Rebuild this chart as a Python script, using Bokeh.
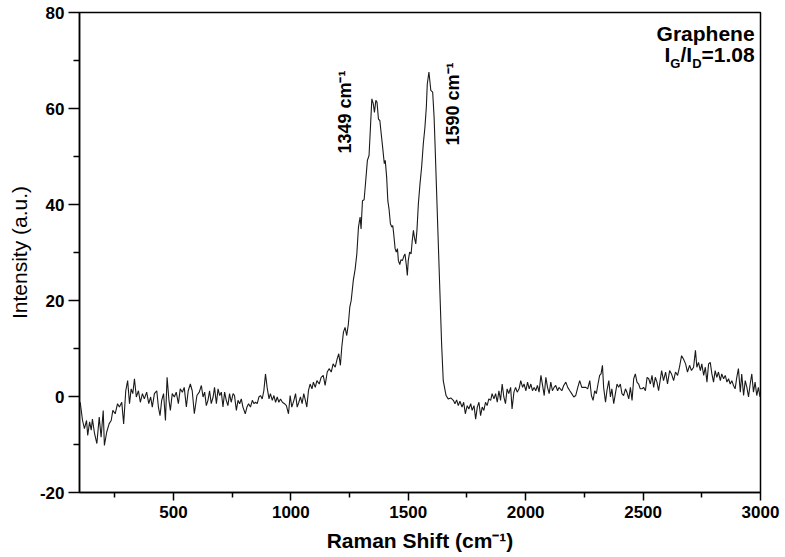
import math
from bokeh.plotting import figure
from bokeh.models import Range1d, FixedTicker, Label
from bokeh.embed import file_html
from bokeh.resources import INLINE

# Raman spectrum of graphene
raman_shift = [
    103, 113, 121, 130, 135, 143, 150, 155, 164, 174, 184, 192, 201, 206, 216, 226, 235, 242, 252, 262,
    270, 280, 288, 297, 305, 313, 320, 327, 334, 342, 351, 359, 368, 376, 386, 395, 403, 410, 419, 429,
    436, 443, 450, 458, 466, 473, 481, 487, 495, 504, 512, 521, 529, 538, 546, 555, 563, 572, 580, 589,
    600, 610, 619, 626, 633, 640, 647, 654, 661, 669, 675, 683, 690, 697, 704, 711, 718, 725, 732, 739,
    746, 754, 760, 768, 775, 782, 789, 796, 806, 813, 820, 828, 836, 843, 850, 857, 864, 871, 878, 885,
    892, 899, 907, 913, 921, 928, 935, 942, 949, 956, 964, 973, 981, 990, 997, 1004, 1013, 1020, 1027, 1034,
    1041, 1048, 1055, 1062,
    1068, 1075, 1082, 1090, 1096, 1104, 1111, 1121, 1129, 1138, 1146, 1155, 1163, 1172, 1180, 1189, 1197, 1204, 1211, 1217,
    1224, 1231, 1238, 1245, 1251, 1257,
    1266, 1274, 1281, 1288, 1295, 1299, 1305, 1312, 1319, 1326, 1333, 1339, 1345, 1351, 1356, 1362, 1367, 1373, 1379, 1384,
    1391, 1398, 1402, 1408, 1413, 1418, 1424, 1430, 1434, 1438, 1444, 1449, 1454, 1458, 1464, 1469, 1475, 1481, 1486, 1492,
    1496, 1500, 1506, 1512, 1517, 1522, 1526, 1532, 1537, 1543, 1550, 1557, 1564, 1571, 1577, 1581, 1588,
    1596, 1604, 1610, 1614, 1621, 1628, 1635, 1642, 1649, 1661, 1670, 1681, 1692, 1699, 1706, 1713, 1720,
    1729, 1736, 1743, 1751, 1758, 1766, 1772, 1780, 1787, 1794, 1801, 1808, 1815, 1822, 1829, 1836, 1843, 1851, 1857, 1865,
    1872, 1879, 1886, 1893, 1900, 1907, 1914, 1921, 1928, 1936, 1942, 1950, 1957, 1964, 1972, 1979, 1987, 1993, 2001, 2008,
    2015, 2022, 2029, 2036, 2043, 2050, 2057, 2065, 2072, 2079, 2086, 2093, 2100, 2107, 2114, 2121, 2128, 2136, 2142,
    2154, 2162, 2171, 2179, 2188, 2196, 2205, 2213, 2222, 2230, 2239, 2247, 2256, 2264, 2273, 2280, 2287, 2294, 2301, 2308,
    2315, 2321, 2327, 2332, 2340, 2346, 2354, 2361, 2367, 2375, 2382, 2389, 2396, 2403, 2410, 2417, 2425, 2431, 2439, 2446,
    2453, 2460, 2467, 2474, 2481, 2488, 2495, 2502, 2510, 2517, 2524, 2531, 2538, 2545, 2552, 2559, 2566,
    2579, 2587, 2596, 2604, 2613, 2621, 2630, 2638, 2647, 2655, 2664, 2672, 2681, 2689, 2698, 2706, 2715, 2723, 2729, 2736,
    2744, 2750, 2758, 2765, 2772, 2779, 2786, 2793, 2800, 2807, 2814, 2821, 2829, 2835, 2843, 2850, 2857, 2864, 2871, 2878,
    2885, 2892, 2899, 2906, 2914, 2920, 2928, 2935, 2942, 2949, 2956, 2963, 2970, 2977, 2984, 2991, 2998,
]
intensity = [
    -1.2, -5.0, -6.7, -5.0, -8.1, -5.3, -7.0, -4.7, -7.7, -9.8, -4.3, -8.5, -2.9, -10.2, -7.4, -5.7, -5.0, -2.9, -3.6, -1.5,
    -2.2, -1.2, -5.7, 1.2, 3.3, -1.5, 1.6, 0.6, 3.7, -0.1, 1.2, -1.2, 0.6, -0.5, 0.9, -1.5, -0.1, -2.2, 0.6, 1.2,
    -2.2, -4.0, -0.8, 0.6, -5.0, 4.0, -0.8, -2.9, 0.6, -0.1, 0.9, -1.5, 1.6, 0.9, 1.9, -2.2, 1.2, 2.6, 1.2, -3.6,
    0.2, 0.9, 2.3, -0.1, 0.9, -1.9, -0.8, 1.2, -1.5, -0.1, 1.9, -1.5, 1.6, 0.2, 0.9, -2.2, 0.9, -0.8, -1.9, 0.6,
    -1.2, 0.6, 0.2, -2.9, -0.8, -1.5, -0.5, -2.2, -3.6, -2.2, -1.5, -2.2, -0.8, -1.5, -1.2, -1.5, -0.1, 0.2, -0.5, 1.2,
    4.7, 1.9, -0.5, 0.6, -0.8, 0.2, -1.2, -0.1, -1.2, -0.5, -1.2, -1.5, -1.9, -3.6, 0.2, -2.2, -0.8, 0.6, -2.2, -1.2,
    -0.1, -1.5, 0.6, -0.8,
    -2.2, 1.2, 2.6, 1.6, 3.0, 1.9, 3.3, 2.6, 4.0, 4.4, 2.3, 5.1, 5.8, 5.1, 6.8, 6.1, 7.8, 8.9, 6.5, 10.3,
    13.4, 14.4, 12.7, 15.1, 18.6, 20.0,
    24.2, 26.6, 29.7, 35.3, 37.4, 34.9, 40.8, 41.0, 45.0, 49.2, 50.2, 56.1, 62.0, 61.0, 59.2, 61.7, 61.3, 57.8, 57.5, 55.1,
    51.9, 48.5, 49.2, 45.7, 40.8, 39.1, 36.0, 35.3, 35.6, 33.9, 30.8, 30.1, 30.8, 28.3, 27.5, 28.5, 28.3, 29.2, 29.7, 27.3,
    25.2, 28.3, 30.1, 29.7, 32.5, 34.6, 33.2, 31.8, 34.6, 40.1, 44.3, 47.8, 52.6, 56.1, 60.3, 65.1, 67.6,
    63.8, 63.4, 58.2, 52.6, 42.2, 31.8, 21.4, 11.0, 3.3, 0.2, -0.5, -0.3, -0.8, -1.5, -0.7, -1.9, -1.0,
    -2.2, -1.2, -3.6, -1.9, -2.6, -1.5, -2.9, -1.9, -4.7, -2.2, -1.2, -4.0, -2.2, -2.9, -1.2, -1.9, -0.5, -0.8, 0.6, -0.5,
    0.6, -1.2, 1.2, -0.8, 2.6, -0.1, -1.5, 1.6, 0.6, 1.9, -2.6, 0.9, 1.9, 0.9, 1.6, 3.3, 1.9, 2.6, 1.2, 3.0,
    1.6, 2.6, 1.2, 1.9, 1.2, 2.3, 0.9, 4.4, 2.3, 0.2, 4.0, 1.9, 0.6, 3.0, 1.2, 1.9, 2.3, 1.2, 1.9,
    1.2, 2.3, 3.0, 1.9, 1.2, 0.6, -0.1, 0.2, 1.9, 3.3, 1.9, 1.9, 1.9, 1.6, 3.3, 0.2, -0.8, 1.2, 0.6, 2.6,
    4.4, 4.7, 6.5, 1.9, -1.2, 1.2, 3.3, -0.1, 1.6, -1.5, 0.6, 2.6, 1.9, 2.6, 0.6, 0.2, 1.6, 0.9, -0.5, 1.9,
    -0.8, 3.7, 4.7, 3.0, 2.6, 1.6, 1.6, 1.9, 1.2, 4.0, 3.7, 2.6, 4.4, 1.9, 4.0, 3.0, 1.2,
    5.4, 3.3, 5.1, 2.6, 5.4, 4.7, 3.3, 5.1, 4.4, 6.1, 8.5, 7.8, 6.8, 5.1, 6.5, 5.4, 6.1, 9.6, 6.1, 7.1,
    5.4, 6.8, 4.4, 6.1, 3.0, 6.8, 7.1, 4.7, 3.0, 5.4, 4.0, 5.1, 3.3, 4.7, 3.7, 4.4, 3.0, 3.7, 2.6, 3.3,
    2.3, 1.6, 4.0, 5.8, 0.9, 4.7, 0.2, 3.3, 1.9, -0.1, 2.6, 4.7, 0.9, 3.0, 0.2, 1.9, -0.1,
]

x_major = [500, 1000, 1500, 2000, 2500, 3000]
x_minor = [250, 750, 1250, 1750, 2250, 2750]
y_major = [-20, 0, 20, 40, 60, 80]
y_minor = [-10, 10, 30, 50, 70]
y_major_labels = {-20: "-20", 0: "0", 20: "20", 40: "40", 60: "60", 80: "80"}

peak_labels = ["1349 cm\u207b\u00b9", "1590 cm\u207b\u00b9"]
peak_label_x = [1231, 1690]
peak_label_y = [50.6, 52.3]

FONT = "Liberation Sans"

p = figure(width=785, height=557, output_backend="svg", toolbar_location=None,
           x_range=Range1d(100, 3000), y_range=Range1d(-20, 80),
           min_border_left=79, min_border_right=25, min_border_top=12, min_border_bottom=65)

p.line(raman_shift, intensity, line_color="#1a1a1a", line_width=1.1)

p.xgrid.visible = False
p.ygrid.visible = False
p.outline_line_color = "black"
p.outline_line_width = 1.5
p.outline_line_alpha = 1.0

p.xaxis.ticker = FixedTicker(ticks=x_major, minor_ticks=x_minor)
p.yaxis.ticker = FixedTicker(ticks=y_major, minor_ticks=y_minor)
p.yaxis.major_label_overrides = y_major_labels

for ax in (p.xaxis[0], p.yaxis[0]):
    ax.axis_line_width = 1.5
    ax.axis_line_color = "black"
    ax.major_tick_line_width = 1.5
    ax.minor_tick_line_width = 1.5
    ax.major_tick_line_color = "black"
    ax.minor_tick_line_color = "black"
    ax.major_tick_in = 0
    ax.minor_tick_in = 0
    ax.major_label_text_font = FONT
    ax.major_label_text_font_style = "bold"
    ax.major_label_text_font_size = "17px"
    ax.major_label_text_color = "black"
    ax.axis_label_text_font = FONT
    ax.axis_label_text_color = "black"
    ax.axis_label_text_font_size = "21px"

p.xaxis.major_tick_out = 8
p.xaxis.minor_tick_out = 5
p.xaxis.major_label_standoff = 5
p.yaxis.major_tick_out = 11
p.yaxis.minor_tick_out = 6
p.yaxis.major_label_standoff = 4

p.xaxis.axis_label = "Raman Shift (cm\u207b\u00b9)"
p.xaxis.axis_label_text_font_style = "bold"
p.xaxis.axis_label_standoff = 8
p.yaxis.axis_label = "Intensity (a.u.)"
p.yaxis.axis_label_text_font_style = "normal"
p.yaxis.axis_label_standoff = 6

for txt, lx, ly in zip(peak_labels, peak_label_x, peak_label_y):
    p.add_layout(Label(x=lx, y=ly, text=txt, angle=math.pi / 2,
                       text_align="left", text_baseline="middle",
                       text_font=FONT, text_font_style="bold",
                       text_font_size="18px", text_color="black"))

# sample name and intensity ratio
p.add_layout(Label(x=2975, y=75.6, text="Graphene", text_align="right",
                   text_baseline="alphabetic", text_font=FONT, text_font_style="bold",
                   text_font_size="21px", text_color="black"))
ratio_parts = [("I", 2616, 71.2, "21px"), ("G", 2659, 69.3, "13px"), ("/I", 2709, 71.2, "21px"),
               ("D", 2749, 69.3, "13px"), ("=1.08", 2975, 71.2, "21px")]
for txt, lx, ly, fs in ratio_parts:
    p.add_layout(Label(x=lx, y=ly, text=txt, text_align="right",
                       text_baseline="alphabetic", text_font=FONT, text_font_style="bold",
                       text_font_size=fs, text_color="black"))

open("out.html", "w").write(file_html(p, INLINE))
